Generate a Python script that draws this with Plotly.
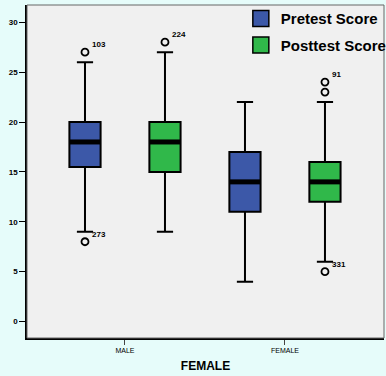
import plotly.graph_objects as go

groups = ["MALE", "FEMALE"]
series = ["Pretest Score", "Posttest Score"]
colors = ["#3c58a8", "#30b84a"]

# box statistics per series, per group
q1 = {"Pretest Score": [15.5, 11], "Posttest Score": [15, 12]}
median = {"Pretest Score": [18, 14], "Posttest Score": [18, 14]}
q3 = {"Pretest Score": [20, 17], "Posttest Score": [20, 16]}
low = {"Pretest Score": [9, 4], "Posttest Score": [9, 6]}
high = {"Pretest Score": [26, 22], "Posttest Score": [27, 22]}

# outliers: (series, group, value, label)
out_series = ["Pretest Score", "Pretest Score", "Posttest Score", "Posttest Score", "Posttest Score", "Posttest Score"]
out_group = ["MALE", "MALE", "MALE", "FEMALE", "FEMALE", "FEMALE"]
out_value = [27, 8, 28, 24, 23, 5]
out_label = ["103", "273", "224", "91", "", "331"]

offsets = [-0.25, 0.25]
bw = 0.195

fig = go.Figure()
for si, s in enumerate(series):
    xs = [gi + offsets[si] for gi in range(len(groups))]
    fig.add_trace(go.Box(
        x=xs, q1=q1[s], median=median[s], q3=q3[s],
        lowerfence=low[s], upperfence=high[s],
        width=bw, whiskerwidth=0.52,
        fillcolor=colors[si], line=dict(color="black", width=2),
        boxpoints=False, showlegend=False, hoverinfo="skip",
    ))
    # median thick line
    mx, my = [], []
    for gi in range(len(groups)):
        mx += [xs[gi] - bw / 2, xs[gi] + bw / 2, None]
        my += [median[s][gi], median[s][gi], None]
    fig.add_trace(go.Scatter(x=mx, y=my, mode="lines",
                             line=dict(color="black", width=5),
                             showlegend=False, hoverinfo="skip"))
    # legend entries
    fig.add_trace(go.Scatter(x=[None], y=[None], mode="markers", name=s,
                             legendgroup=s,
                             marker=dict(symbol="square", size=16, color=colors[si],
                                         line=dict(color="black", width=1.5))))

ox = [groups.index(g) + offsets[series.index(s)] for s, g in zip(out_series, out_group)]
fig.add_trace(go.Scatter(x=ox, y=out_value, mode="markers",
                         marker=dict(symbol="circle-open", size=7,
                                     line=dict(color="black", width=1.8), color="black"),
                         showlegend=False, hoverinfo="skip"))
for x, v, t in zip(ox, out_value, out_label):
    if t:
        fig.add_annotation(x=x, y=v, text="<b>%s</b>" % t, showarrow=False,
                           xanchor="left", yanchor="bottom", xshift=5, yshift=1,
                           font=dict(size=8, color="black", family="Liberation Sans"))

fig.add_shape(type="rect", xref="paper", yref="paper", x0=0, y0=0, x1=1, y1=1,
              line=dict(color="#666666", width=1), layer="above")

fig.update_layout(
    width=386, height=376,
    margin=dict(l=27, r=2, t=5, b=38, autoexpand=False),
    paper_bgcolor="#e6fcfa",
    plot_bgcolor="#f0f0f0",
    font=dict(family="Liberation Sans", color="black"),
    legend=dict(x=0.599, y=1.008, xanchor="left", yanchor="top",
                font=dict(size=15, family="Liberation Sans", color="black", weight="bold"),
                bgcolor="rgba(0,0,0,0)", traceorder="grouped", tracegroupgap=4,
                itemsizing="trace"),
    xaxis=dict(range=[-0.6125, 1.619], tickmode="array", tickvals=[0, 1],
               ticktext=groups, ticks="outside", ticklen=5, tickcolor="#444",
               tickfont=dict(size=7), showgrid=False, zeroline=False,
               showline=True, linecolor="black", linewidth=2,
               title=dict(text="<b>FEMALE</b>", font=dict(size=12), standoff=8)),
    yaxis=dict(range=[-1.65, 31.73], tickvals=[0, 5, 10, 15, 20, 25, 30],
               ticks="outside", ticklen=6, tickcolor="black",
               tickfont=dict(size=8, weight="bold"), showgrid=False, zeroline=False,
               showline=True, linecolor="black", linewidth=1.5),
)

fig.write_html("out.html", config={"displayModeBar": False},
               post_script="document.body.style.margin='0';document.body.style.background='#e6fcfa';")
